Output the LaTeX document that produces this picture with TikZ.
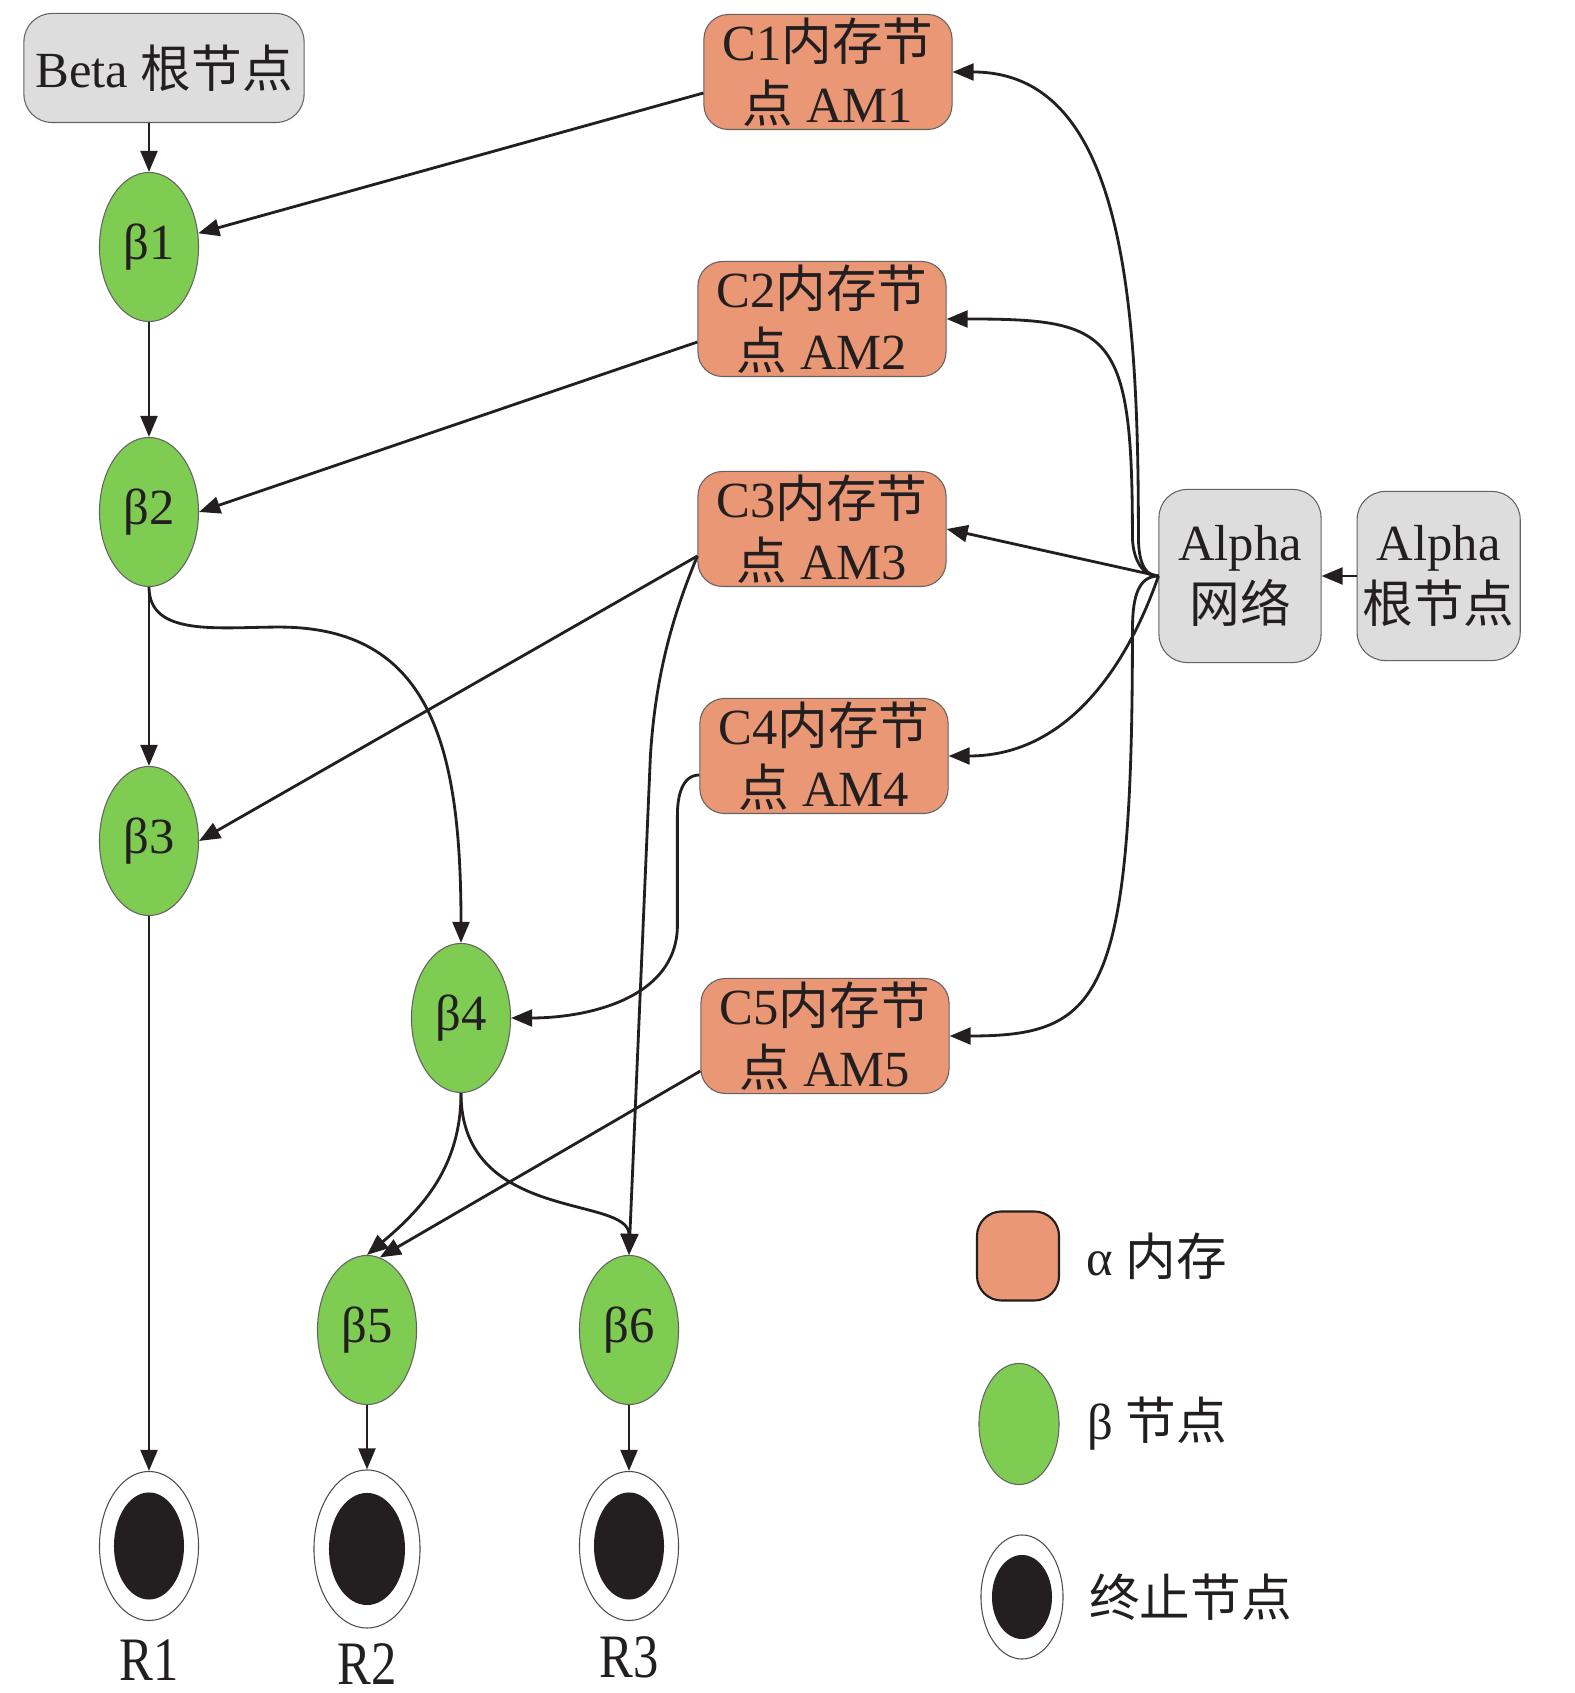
\documentclass[tikz,border=0pt]{standalone}
\usepackage{fontspec}
\usepackage{graphicx}
\setmainfont{Liberation Serif}
\newfontfamily\cjk{Noto Sans CJK SC}
\usepackage{tikz}
\usetikzlibrary{
    arrows.meta,
    positioning,
    shapes.geometric
}
\definecolor{ink}{RGB}{35,31,32}
\definecolor{memOrange}{RGB}{233,151,116}
\definecolor{betaGreen}{RGB}{126,204,82}
\definecolor{rootGray}{RGB}{221,221,221}
\newcommand{\diafont}{\fontsize{14.4pt}{17.5pt}\selectfont}
\tikzset{
  arr/.style = {-{Triangle[length=6pt,width=4.8pt]}, line width=0.8pt, ink}
}

\begin{document}
\begin{tikzpicture}[
  x=0.01cm, y=0.01cm,
  node distance=0.2cm,
  rootbox/.style={
    draw=ink!70, line width=0.3pt, fill=rootGray,
    rounded corners=8pt, align=center, inner sep=0pt,
    text=ink, font=\diafont
  },
  mem/.style={
    draw=ink!70, line width=0.3pt, fill=memOrange,
    rounded corners=7pt, minimum width=2.48cm, minimum height=1.15cm,
    align=center, inner sep=0pt, text=ink, font=\diafont
  },
  beta/.style={
    ellipse, draw=ink!70, line width=0.3pt, fill=betaGreen,
    minimum width=0.99cm, minimum height=1.49cm, inner sep=0pt,
    text=ink, font=\diafont
  },
  term/.style={
    ellipse, draw=ink!80, line width=0.3pt, fill=white,
    minimum width=0.99cm, minimum height=1.49cm, inner sep=0pt
  },
  core/.style={
    ellipse, fill=ink, minimum width=0.70cm, minimum height=1.07cm,
    inner sep=0pt
  },
  legbox/.style={
    draw=ink, line width=0.6pt, fill=memOrange, rounded corners=7pt,
    minimum width=0.82cm, minimum height=0.89cm, inner sep=0pt
  },
  rlab/.style={inner sep=0pt, text=ink, font=\diafont},
  legtext/.style={inner sep=0pt, text=ink, font=\diafont}
]
\path[use as bounding box, fill=white] (0,0) rectangle (1575,1693);

%% --- Beta side ---
\node[rootbox, minimum width=2.8cm, minimum height=1.09cm] (broot) at (164,1625) {Beta {\cjk 根节点}};
\node[beta] (b1) at (149,1446) {β1};
\node[beta] (b2) at (149,1181) {β2};
\node[beta] (b3) at (149,852) {β3};
\node[beta] (b4) at (461,675) {β4};
\node[beta] (b5) at (367,363) {β5};
\node[beta] (b6) at (629,363) {β6};

%% --- terminal nodes ---
\node[term] (r1) at (149,147) {};
\node[core] (r1c) at (r1) {};
\node[term, minimum width=1.06cm, minimum height=1.58cm] (r2) at (367,144) {};
\node[core, minimum width=0.76cm, minimum height=1.12cm] (r2c) at (r2) {};
\node[term] (r3) at (629,147) {};
\node[core] (r3c) at (r3) {};
\node[rlab, below=0.18cm of r1] (r1lab) {\scalebox{1}[1.22]{R1}};
\node[rlab, below=0.14cm of r2] (r2lab) {\scalebox{1}[1.22]{R2}};
\node[rlab, below=0.15cm of r3] (r3lab) {\scalebox{1}[1.22]{R3}};

%% --- alpha memories ---
\node[mem] (c1) at (828,1621) {C1{\cjk 内存节}\\{\cjk 点} AM1};
\node[mem] (c2) at (822,1374) {C2{\cjk 内存节}\\{\cjk 点} AM2};
\node[mem] (c3) at (822,1164) {C3{\cjk 内存节}\\{\cjk 点} AM3};
\node[mem] (c4) at (824,937) {C4{\cjk 内存节}\\{\cjk 点} AM4};
\node[mem] (c5) at (825,657) {C5{\cjk 内存节}\\{\cjk 点} AM5};

%% --- Alpha side ---
\node[rootbox, minimum width=1.62cm, minimum height=1.73cm] (anet) at (1240,1117) {Alpha\\{\cjk 网络}};
\node[rootbox, minimum width=1.63cm, minimum height=1.69cm, right=0.35cm of anet] (aroot) {Alpha\\{\cjk 根节点}};

%% --- legend ---
\node[legbox] (legmem) at (1018,437) {};
\node[beta, minimum width=0.80cm, minimum height=1.21cm] (legbeta) at (1019,269) {};
\node[term, minimum width=0.82cm, minimum height=1.24cm] (legterm) at (1022,96) {};
\node[core, minimum width=0.60cm, minimum height=0.84cm] (legcore) at (legterm) {};
\node[legtext, right=0.26cm of legmem] (legmemtxt) {α {\cjk 内存}};
\node[legtext, right=0.27cm of legbeta] (legbetatxt) {β {\cjk 节点}};
\node[legtext, right=0.25cm of legterm] (legtermtxt) {{\cjk 终止节点}};

%% --- beta chain ---
\draw[arr] (b1 |- broot.south) -- (b1);
\draw[arr] (b1) -- (b2);
\draw[arr] (b2) -- (b3);
\draw[arr] (b3) -- (r1);
\draw[arr] (b5) -- (r2);
\draw[arr] (b6) -- (r3);
\draw[arr] (b2.south) .. controls +(0,-50) and +(-60,0) .. ++(130,-40)
  .. controls +(150,0) and +(0,200) .. (b4.north);
\draw[arr] (b4.south) to[out=-90,in=40] (b5.north);
\draw[arr] (b4.south) .. controls +(0,-130) and +(0,60) .. (b6.north);

%% --- memories into beta nodes ---
\draw[arr] ([yshift=-0.21cm]c1.west) -- (b1);
\draw[arr] ([yshift=-0.23cm]c2.west) -- (b2.east);
\draw[arr] ([yshift=-0.27cm]c3.west) -- (b3.east);
\draw[arr] ([yshift=-0.27cm]c3.west) .. controls +(-25,-60) and +(5,80) .. ++(-47,-200)
  -- (b6.north);
\draw[arr] ([yshift=-0.19cm]c4.west) to[out=180,in=90] ++(-22,-40)
  -- ++(0,-110) to[out=-90,in=0] (b4.east);
\draw[arr] ([yshift=-0.35cm]c5.west) -- (b5.80);

%% --- alpha network fan-out ---
\draw[arr] (aroot) -- (anet);
\draw[arr] (anet.west) to[out=180,in=-90] ++(-20,40)
  .. controls +(0,240) and +(170,0) .. (c1.east);
\draw[arr] (anet.west) to[out=180,in=-90] ++(-26,40)
  .. controls +(0,206) and +(165,0) .. (c2.east);
\draw[arr] (anet.west) -- (c3.east);
\draw[arr] (anet.west) .. controls +(-29,-84) and +(122,0) .. (c4.east);
\draw[arr] (anet.west) to[out=180,in=90] ++(-26,-60)
  .. controls +(0,-364) and +(150,0) .. (c5.east);

\end{tikzpicture}
\end{document}
